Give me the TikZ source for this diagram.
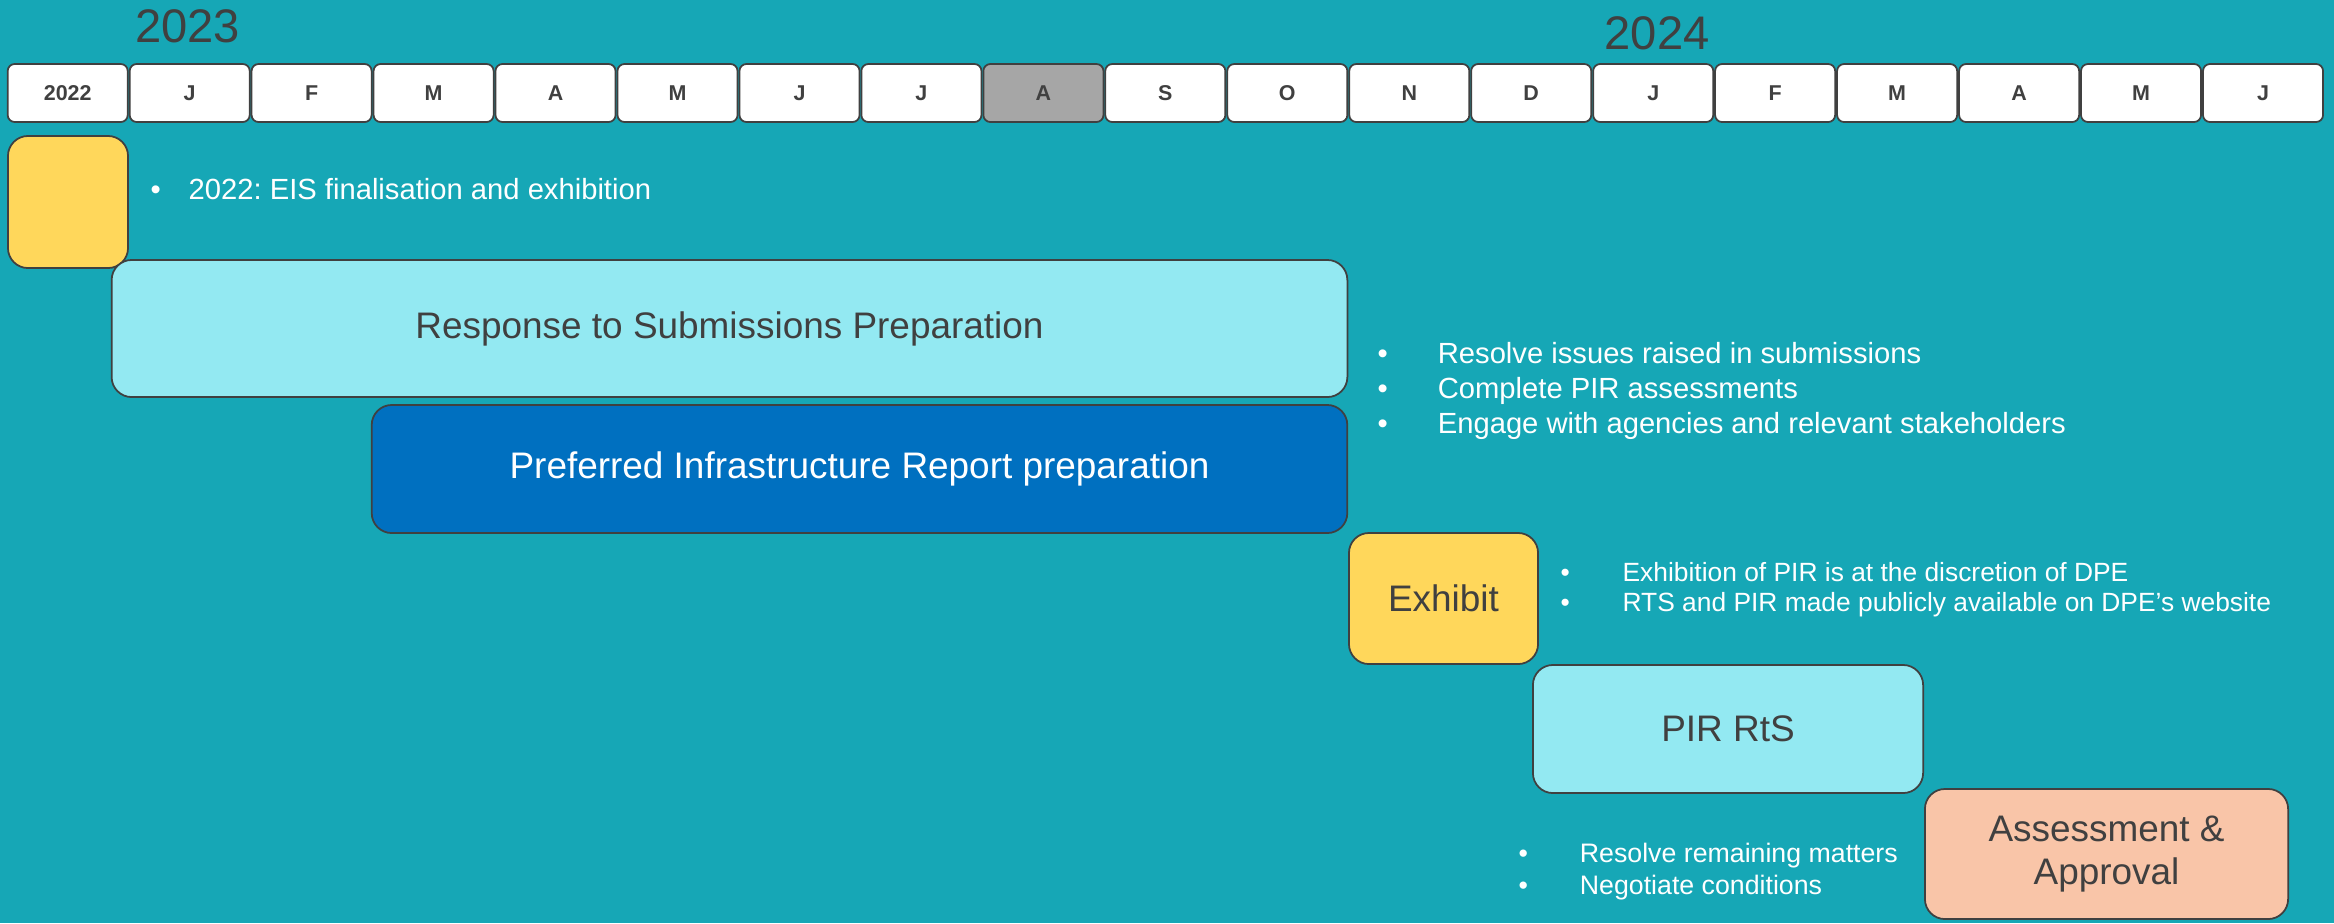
\documentclass[tikz,border=0pt]{standalone}
\usepackage{fontspec}
\setmainfont{Liberation Sans}
\usepackage{tikz}
\usetikzlibrary{positioning} % For easy node-relative placements
\frenchspacing

\definecolor{bgteal}{HTML}{16A7B6}
\definecolor{edge}{HTML}{404040}
\definecolor{darktext}{HTML}{404040}
\definecolor{sunny}{HTML}{FFD75B}
\definecolor{paleblue}{HTML}{93E9F2}
\definecolor{deepblue}{HTML}{0070C0}
\definecolor{peach}{HTML}{F9C5A8}
\definecolor{greycell}{HTML}{A6A6A6}

\begin{document}
\begin{tikzpicture}[x=0.01cm, y=-0.01cm,
  month/.style={draw=edge, line width=0.5pt, fill=white, rounded corners=0.07cm,
    minimum width=1.20cm, minimum height=0.58cm, inner sep=0pt, text=darktext,
    font=\fontsize{6.1}{7}\selectfont\bfseries},
  phase/.style={draw=edge, line width=0.5pt, rounded corners=0.2cm, inner sep=0pt,
    align=center, text=darktext, font=\fontsize{10.5}{12.4}\selectfont},
  year/.style={inner sep=0pt, text=darktext, font=\fontsize{13.4}{16}\selectfont},
  bullets/.style={anchor=west, inner sep=0pt, align=left, text=white}]

  % background and page size
  \fill[bgteal] (0,0) rectangle (2334,923);
  \useasboundingbox (0,0) rectangle (2334,923);

  \node[year] (year_a) at (187.5,26.5) {2023};
  \node[year] (year_b) at (1657,33) {2024};

  % month strip
  \node[month] (start) at (67.7,93) {2022};
  \node[month] (jan) at (189.7,93) {J};
  \node[month] (feb) at (311.6,93) {F};
  \node[month] (mar) at (433.6,93) {M};
  \node[month] (apr) at (555.5,93) {A};
  \node[month] (may) at (677.5,93) {M};
  \node[month] (jun) at (799.5,93) {J};
  \node[month] (jul) at (921.4,93) {J};
  \node[month, fill=greycell] (aug) at (1043.4,93) {A};
  \node[month] (sep) at (1165.3,93) {S};
  \node[month] (oct) at (1287.3,93) {O};
  \node[month] (nov) at (1409.3,93) {N};
  \node[month] (dec) at (1531.2,93) {D};
  \node[month] (jan_2) at (1653.2,93) {J};
  \node[month] (feb_2) at (1775.1,93) {F};
  \node[month] (mar_2) at (1897.1,93) {M};
  \node[month] (apr_2) at (2019.1,93) {A};
  \node[month] (may_2) at (2141.0,93) {M};
  \node[month] (jun_2) at (2263.0,93) {J};

  % phases
  \node[phase, fill=sunny, minimum width=1.20cm, minimum height=1.32cm] (eis) at (68,202) {};
  \node[phase, fill=paleblue, minimum width=12.35cm, minimum height=1.37cm] (rts) at (729.5,328.5) {Response to Submissions Preparation};
  \node[phase, fill=deepblue, text=white, minimum width=9.75cm, minimum height=1.28cm] (pir) at (859.5,469) {Preferred Infrastructure Report preparation};
  \node[phase, fill=sunny, minimum width=1.89cm, minimum height=1.31cm] (exhibit) at (1443.5,598.5) {Exhibit};
  \node[phase, fill=paleblue, minimum width=3.90cm, minimum height=1.28cm] (pir_rts) at (1728,729) {PIR RtS};
  \node[phase, fill=peach, minimum width=3.63cm, minimum height=1.30cm] (approval) at (2106.5,854) {Assessment \&\\Approval};

  % notes
  \node[bullets, font=\fontsize{8.3}{9.5}\selectfont] (eis_note) at (150,189)
    {\makebox[10.8pt][l]{\textbullet}2022: EIS finalisation and exhibition};
  \node[bullets, font=\fontsize{8.3}{9.9}\selectfont] (rts_note) at (1377,391)
    {\makebox[17.1pt][l]{\textbullet}Resolve issues raised in submissions\\
     \makebox[17.1pt][l]{\textbullet}Complete PIR assessments\\
     \makebox[17.1pt][l]{\textbullet}Engage with agencies and relevant stakeholders};
  \node[bullets, font=\fontsize{7.5}{8.5}\selectfont] (exhibit_note) at (1560,590)
    {\makebox[17.6pt][l]{\textbullet}Exhibition of PIR is at the discretion of DPE\\
     \makebox[17.6pt][l]{\textbullet}RTS and PIR made publicly available on DPE’s website};
  \node[bullets, font=\fontsize{7.6}{9.1}\selectfont] (pir_rts_note) at (1518,872)
    {\makebox[17.4pt][l]{\textbullet}Resolve remaining matters\\
     \makebox[17.4pt][l]{\textbullet}Negotiate conditions};

\end{tikzpicture}
\end{document}
